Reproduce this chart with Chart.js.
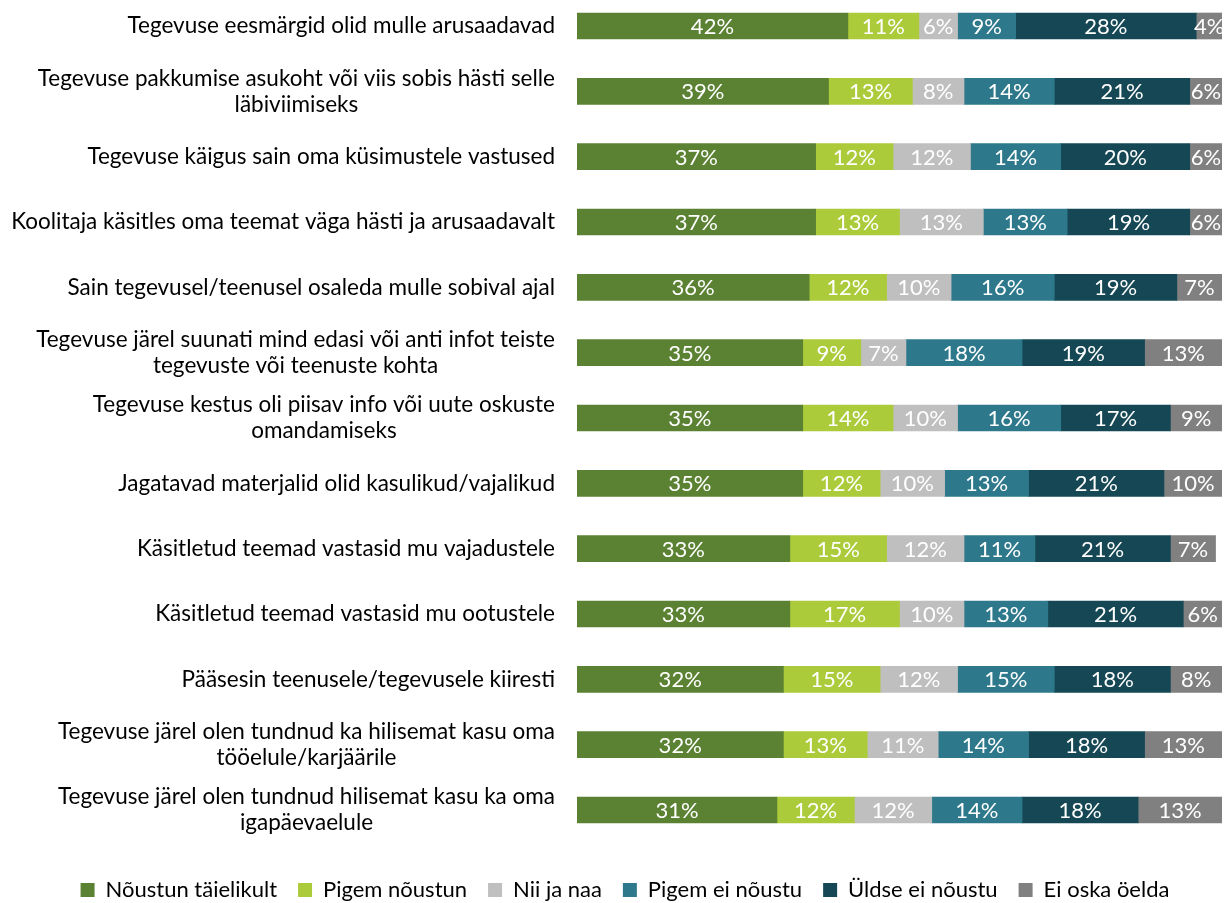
<!DOCTYPE html>
<html>
<head>
<meta charset="utf-8">
<script src="https://cdn.jsdelivr.net/npm/chart.js@4.4.1/dist/chart.umd.min.js"></script>
<style>
  html, body { margin: 0; padding: 0; background: #fff; }
  #wrap { width: 1225px; height: 903px; }
</style>
</head>
<body>
<div id="wrap"><canvas id="agreeChart"></canvas></div>
<script>
// statements (multi-line ones are split where they wrap)
const statements = [
    ['Tegevuse eesmärgid olid mulle arusaadavad'],
    ['Tegevuse pakkumise asukoht või viis sobis hästi selle', 'läbiviimiseks'],
    ['Tegevuse käigus sain oma küsimustele vastused'],
    ['Koolitaja käsitles oma teemat väga hästi ja arusaadavalt'],
    ['Sain tegevusel/teenusel osaleda mulle sobival ajal'],
    ['Tegevuse järel suunati mind edasi või anti infot teiste', 'tegevuste või teenuste kohta'],
    ['Tegevuse kestus oli piisav info või uute oskuste', 'omandamiseks'],
    ['Jagatavad materjalid olid kasulikud/vajalikud'],
    ['Käsitletud teemad vastasid mu vajadustele'],
    ['Käsitletud teemad vastasid mu ootustele'],
    ['Pääsesin teenusele/tegevusele kiiresti'],
    ['Tegevuse järel olen tundnud ka hilisemat kasu oma', 'tööelule/karjäärile'],
    ['Tegevuse järel olen tundnud hilisemat kasu ka oma', 'igapäevaelule']
];

const fullyAgree    = [42, 39, 37, 37, 36, 35, 35, 35, 33, 33, 32, 32, 31];
const ratherAgree   = [11, 13, 12, 13, 12,  9, 14, 12, 15, 17, 15, 13, 12];
const neutral       = [ 6,  8, 12, 13, 10,  7, 10, 10, 12, 10, 12, 11, 12];
const ratherDisagree= [ 9, 14, 14, 13, 16, 18, 16, 13, 11, 13, 15, 14, 14];
const fullyDisagree = [28, 21, 20, 19, 19, 19, 17, 21, 21, 21, 18, 18, 18];
const dontKnow      = [ 4,  6,  6,  6,  7, 13,  9, 10,  7,  6,  8, 13, 13];

const seriesNames = ['Nõustun täielikult', 'Pigem nõustun', 'Nii ja naa', 'Pigem ei nõustu', 'Üldse ei nõustu', 'Ei oska öelda'];
const seriesColors = ['#5b8233', '#abcb3a', '#bfbfbf', '#2e788c', '#154754', '#808080'];
const seriesValues = [fullyAgree, ratherAgree, neutral, ratherDisagree, fullyDisagree, dontKnow];

const FONT = 'Lato, sans-serif';
const LABEL_RIGHT = 555;
const AREA_LEFT = 577;
const PAD_LEFT = 28;
const LEGEND_H = 93;

// category labels: block right-aligned, lines centred inside the block
const categoryLabels = {
    id: 'categoryLabels',
    afterDraw(chart) {
        const ctx = chart.ctx;
        const y = chart.scales.y;
        ctx.save();
        ctx.font = '22.5px ' + FONT;
        ctx.fillStyle = '#000';
        ctx.textAlign = 'center';
        ctx.textBaseline = 'middle';
        const lineH = 26;
        statements.forEach((lines, i) => {
            const w = Math.max(...lines.map(l => ctx.measureText(l).width));
            const cx = LABEL_RIGHT - w / 2;
            const cy = y.getPixelForValue(i);
            lines.forEach((l, k) => {
                ctx.fillText(l, cx, cy + (k - (lines.length - 1) / 2) * lineH);
            });
        });
        ctx.restore();
    }
};

// percentage text in the middle of each visible segment
const segmentLabels = {
    id: 'segmentLabels',
    afterDatasetsDraw(chart) {
        const ctx = chart.ctx;
        const area = chart.chartArea;
        ctx.save();
        ctx.font = '22px ' + FONT;
        ctx.fillStyle = '#fff';
        ctx.textAlign = 'center';
        ctx.textBaseline = 'middle';
        chart.data.datasets.forEach((ds, di) => {
            chart.getDatasetMeta(di).data.forEach((bar, i) => {
                const left = Math.max(bar.base, area.left);
                const right = Math.min(bar.x, area.right);
                ctx.fillText(ds.data[i] + '%', (left + right) / 2, bar.y + 1);
            });
        });
        ctx.restore();
    }
};

// give the legend a fixed band at the bottom and push the items down inside it
const legendBand = {
    id: 'legendBand',
    afterInit(chart) {
        const legend = chart.legend;
        const fit = legend.fit;
        legend.fit = function() {
            fit.call(this);
            this.height = LEGEND_H;
        };
        const draw = legend.draw;
        legend.draw = function() {
            const pad = this.options.labels.padding;
            this.ctx.save();
            this.ctx.translate(0, 69 - pad);
            draw.call(this);
            this.ctx.restore();
        };
    }
};

new Chart(document.getElementById('agreeChart'), {
    type: 'bar',
    data: {
        labels: statements,
        datasets: seriesNames.map((name, i) => ({
            label: name,
            data: seriesValues[i],
            backgroundColor: seriesColors[i],
            borderWidth: 0,
            barThickness: 26,
            clip: { left: 0, right: 0, top: false, bottom: false }
        }))
    },
    options: {
        indexAxis: 'y',
        responsive: true,
        maintainAspectRatio: false,
        animation: false,
        layout: { padding: { top: 26, left: PAD_LEFT, right: 3, bottom: 0 } },
        scales: {
            x: { stacked: true, min: 0, max: 100, display: false },
            y: {
                stacked: true,
                offset: false,
                grid: { display: false },
                border: { display: false },
                ticks: { display: false },
                afterFit(scale) { scale.width = AREA_LEFT - PAD_LEFT; }
            }
        },
        plugins: {
            tooltip: { enabled: false },
            legend: {
                position: 'bottom',
                labels: {
                    font: { family: FONT, size: 22 },
                    color: '#000',
                    boxWidth: 14,
                    boxHeight: 14,
                    padding: 21
                }
            }
        }
    },
    plugins: [categoryLabels, segmentLabels, legendBand]
});
</script>
</body>
</html>
